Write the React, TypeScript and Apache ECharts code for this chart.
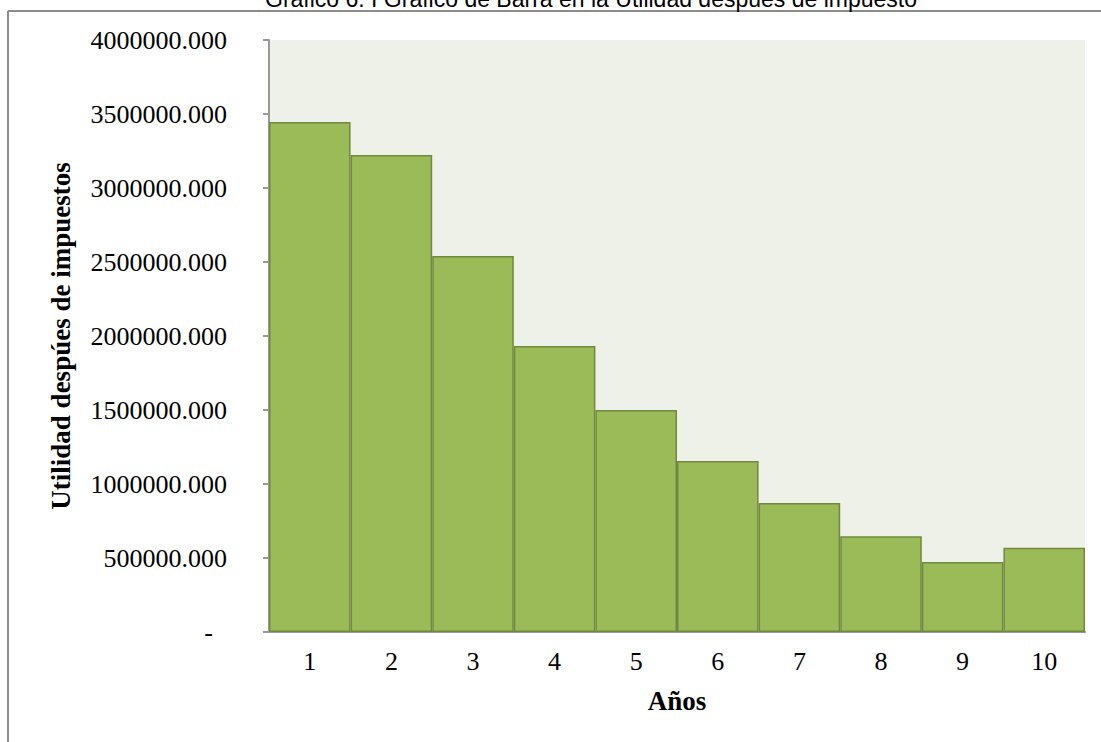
import React, { useEffect, useRef } from "react";
import * as echarts from "echarts";

const categories = ["1", "2", "3", "4", "5", "6", "7", "8", "9", "10"];
const utilidad = [3446000, 3223000, 2541000, 1932000, 1500000, 1155000, 872000, 647000, 473000, 570000];
const titleText = "Gráfico 6. I Gráfico de Barra en la Utilidad después de impuesto";
const yName = "Utilidad despúes de impuestos";
const xName = "Años";

export default function App() {
  const ref = useRef<HTMLDivElement>(null);
  useEffect(() => {
    if (!ref.current) return;
    const chart = echarts.init(ref.current, null, { renderer: "svg" });
    const serif = "'Liberation Serif', 'Times New Roman', serif";
    chart.setOption({
      animation: false,
      backgroundColor: "#ffffff",
      graphic: [
        {
          type: "line",
          shape: { x1: 8, y1: 11, x2: 1101, y2: 11 },
          style: { stroke: "#8c8c8c", lineWidth: 2 },
        },
        {
          type: "line",
          shape: { x1: 8, y1: 11, x2: 8, y2: 742 },
          style: { stroke: "#8c8c8c", lineWidth: 2 },
        },
        {
          type: "text",
          x: 591,
          y: 10,
          style: {
            text: titleText,
            font: "23px 'Liberation Sans', Arial, sans-serif",
            fill: "#000",
            align: "center",
            verticalAlign: "bottom",
          },
        },
      ],
      grid: {
        left: 269,
        top: 40,
        right: 16,
        bottom: 110,
        show: true,
        backgroundColor: "#eef1e7",
        borderWidth: 0,
      },
      xAxis: {
        type: "category",
        data: categories,
        name: xName,
        nameLocation: "middle",
        nameGap: 55,
        nameTextStyle: { fontFamily: serif, fontSize: 27, fontWeight: "bold", color: "#000" },
        axisLine: { show: true, lineStyle: { color: "#999999", width: 2 } },
        axisTick: { show: false },
        axisLabel: { fontFamily: serif, fontSize: 26, color: "#000", margin: 16 },
      },
      yAxis: {
        type: "value",
        min: 0,
        max: 4000000,
        interval: 500000,
        name: yName,
        nameLocation: "middle",
        nameRotate: 90,
        nameGap: 195,
        nameTextStyle: { fontFamily: serif, fontSize: 27, fontWeight: "bold", color: "#000" },
        axisLine: { show: true, lineStyle: { color: "#999999", width: 2 } },
        axisTick: { show: true, length: 6, lineStyle: { color: "#999999", width: 2 } },
        splitLine: { show: false },
        axisLabel: {
          fontFamily: serif,
          fontSize: 26,
          color: "#000",
          margin: 42,
          formatter: (v: number) => (v === 0 ? "{z|-}" : v.toFixed(3)),
          rich: { z: { fontFamily: serif, fontSize: 26, color: "#000", padding: [0, 14, 0, 0] } },
        },
      },
      series: [
        {
          type: "bar",
          data: utilidad,
          barCategoryGap: "0%",
          itemStyle: { color: "#9bbb59", borderColor: "#71893f", borderWidth: 1.5 },
        },
      ],
    });
    return () => chart.dispose();
  }, []);
  return <div ref={ref} style={{ position: "fixed", left: 0, top: 0, width: 1101, height: 742 }} />;
}
